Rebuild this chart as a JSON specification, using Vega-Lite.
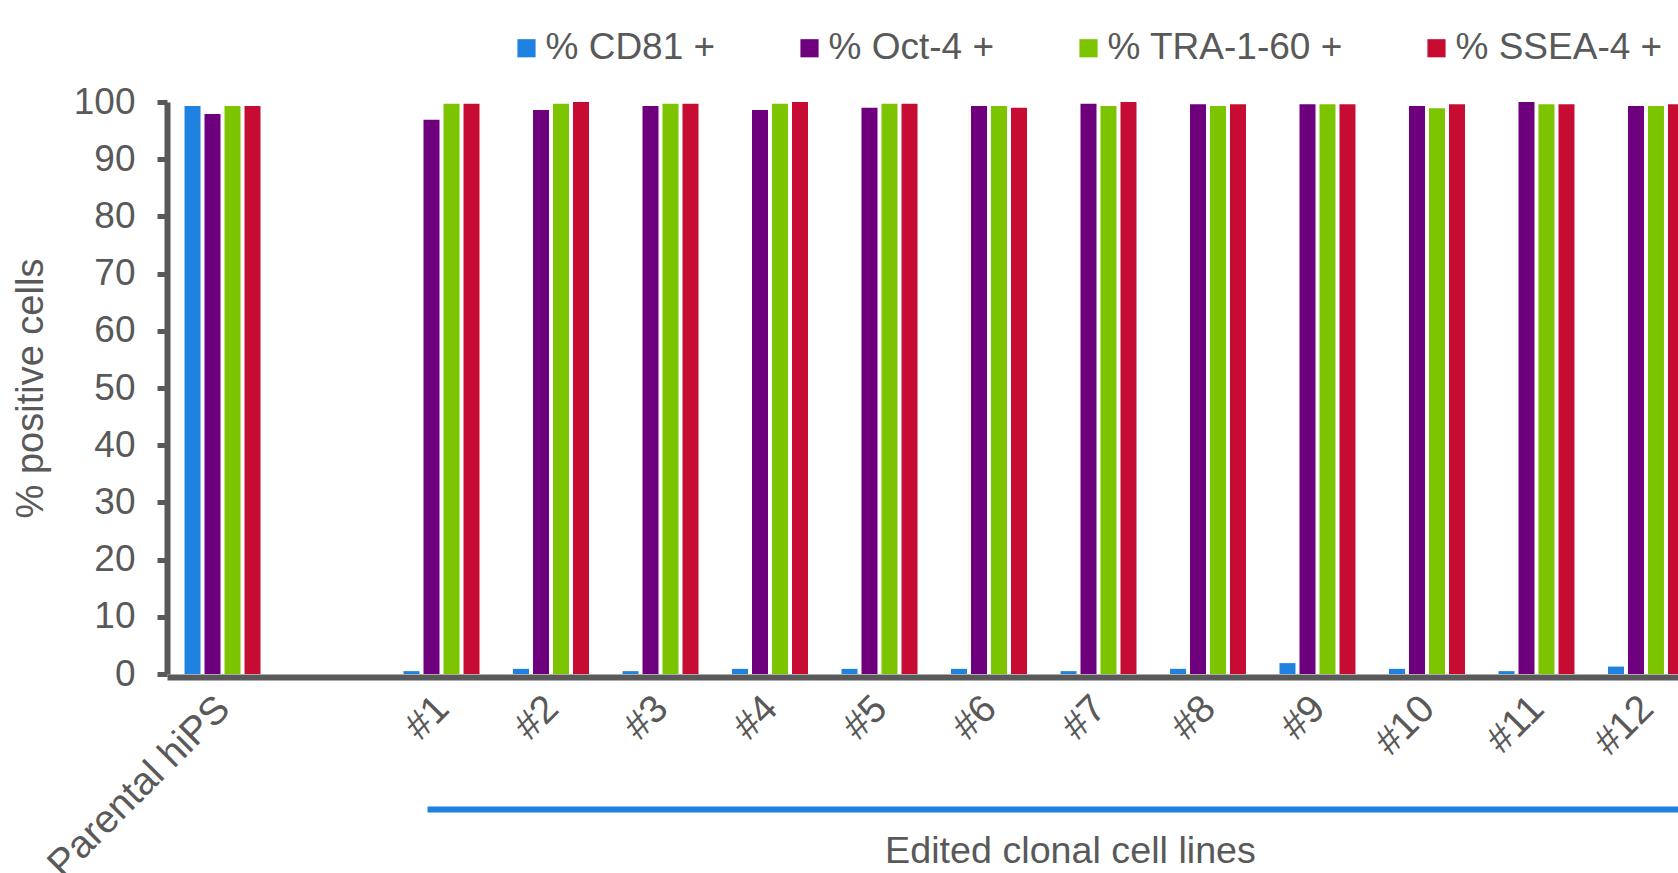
{
  "$schema": "https://vega.github.io/schema/vega-lite/v6.json",
  "width": 1511,
  "height": 572,
  "autosize": {"type": "none"},
  "padding": {"left": 167, "top": 102, "right": 0, "bottom": 199},
  "background": "white",
  "config": {"font": "Liberation Sans", "view": {"stroke": null}, "axis": {"grid": false}},
  "layer": [
    {
      "data": {"values": [
        {"line": "Parental hiPS", "marker": "% CD81 +", "value": 99.3},
        {"line": "Parental hiPS", "marker": "% Oct-4 +", "value": 97.9},
        {"line": "Parental hiPS", "marker": "% TRA-1-60 +", "value": 99.3},
        {"line": "Parental hiPS", "marker": "% SSEA-4 +", "value": 99.3},
        {"line": "#1", "marker": "% CD81 +", "value": 0.5},
        {"line": "#1", "marker": "% Oct-4 +", "value": 96.9},
        {"line": "#1", "marker": "% TRA-1-60 +", "value": 99.7},
        {"line": "#1", "marker": "% SSEA-4 +", "value": 99.7},
        {"line": "#2", "marker": "% CD81 +", "value": 0.9},
        {"line": "#2", "marker": "% Oct-4 +", "value": 98.6},
        {"line": "#2", "marker": "% TRA-1-60 +", "value": 99.7},
        {"line": "#2", "marker": "% SSEA-4 +", "value": 100},
        {"line": "#3", "marker": "% CD81 +", "value": 0.5},
        {"line": "#3", "marker": "% Oct-4 +", "value": 99.3},
        {"line": "#3", "marker": "% TRA-1-60 +", "value": 99.7},
        {"line": "#3", "marker": "% SSEA-4 +", "value": 99.7},
        {"line": "#4", "marker": "% CD81 +", "value": 0.9},
        {"line": "#4", "marker": "% Oct-4 +", "value": 98.6},
        {"line": "#4", "marker": "% TRA-1-60 +", "value": 99.7},
        {"line": "#4", "marker": "% SSEA-4 +", "value": 100},
        {"line": "#5", "marker": "% CD81 +", "value": 0.9},
        {"line": "#5", "marker": "% Oct-4 +", "value": 99.0},
        {"line": "#5", "marker": "% TRA-1-60 +", "value": 99.7},
        {"line": "#5", "marker": "% SSEA-4 +", "value": 99.7},
        {"line": "#6", "marker": "% CD81 +", "value": 0.9},
        {"line": "#6", "marker": "% Oct-4 +", "value": 99.3},
        {"line": "#6", "marker": "% TRA-1-60 +", "value": 99.3},
        {"line": "#6", "marker": "% SSEA-4 +", "value": 99.0},
        {"line": "#7", "marker": "% CD81 +", "value": 0.5},
        {"line": "#7", "marker": "% Oct-4 +", "value": 99.7},
        {"line": "#7", "marker": "% TRA-1-60 +", "value": 99.3},
        {"line": "#7", "marker": "% SSEA-4 +", "value": 100},
        {"line": "#8", "marker": "% CD81 +", "value": 0.9},
        {"line": "#8", "marker": "% Oct-4 +", "value": 99.6},
        {"line": "#8", "marker": "% TRA-1-60 +", "value": 99.3},
        {"line": "#8", "marker": "% SSEA-4 +", "value": 99.6},
        {"line": "#9", "marker": "% CD81 +", "value": 1.9},
        {"line": "#9", "marker": "% Oct-4 +", "value": 99.6},
        {"line": "#9", "marker": "% TRA-1-60 +", "value": 99.6},
        {"line": "#9", "marker": "% SSEA-4 +", "value": 99.6},
        {"line": "#10", "marker": "% CD81 +", "value": 0.9},
        {"line": "#10", "marker": "% Oct-4 +", "value": 99.3},
        {"line": "#10", "marker": "% TRA-1-60 +", "value": 98.9},
        {"line": "#10", "marker": "% SSEA-4 +", "value": 99.6},
        {"line": "#11", "marker": "% CD81 +", "value": 0.5},
        {"line": "#11", "marker": "% Oct-4 +", "value": 100},
        {"line": "#11", "marker": "% TRA-1-60 +", "value": 99.6},
        {"line": "#11", "marker": "% SSEA-4 +", "value": 99.6},
        {"line": "#12", "marker": "% CD81 +", "value": 1.3},
        {"line": "#12", "marker": "% Oct-4 +", "value": 99.3},
        {"line": "#12", "marker": "% TRA-1-60 +", "value": 99.3},
        {"line": "#12", "marker": "% SSEA-4 +", "value": 99.6}
      ]},
      "mark": {"type": "bar"},
      "encoding": {
        "x": {
          "field": "line",
          "type": "nominal",
          "sort": null,
          "scale": {
            "domain": ["Parental hiPS", " ", "#1", "#2", "#3", "#4", "#5", "#6", "#7", "#8", "#9", "#10", "#11", "#12"],
            "range": [0, 1534.5],
            "paddingInner": 0.306,
            "paddingOuter": 0.16
          },
          "axis": {
            "title": "Edited clonal cell lines",
            "titleX": 903,
            "titleY": 185,
            "titleBaseline": "alphabetic",
            "titleAlign": "center",
            "titleFontSize": 37.7,
            "titleFontWeight": "normal",
            "titleColor": "#595959",
            "ticks": false,
            "tickSize": 0,
            "labelAngle": -45,
            "labelAlign": "right",
            "labelBaseline": "middle",
            "labelPadding": 25,
            "labelOffset": 1,
            "labelFontSize": 39,
            "labelColor": "#595959",
            "labelLimit": 500,
            "labelOverlap": false,
            "domainColor": "#595959",
            "domainWidth": 6,
            "offset": 3
          }
        },
        "xOffset": {
          "field": "marker",
          "type": "nominal",
          "sort": null,
          "scale": {"domain": ["% CD81 +", "% Oct-4 +", "% TRA-1-60 +", "% SSEA-4 +"], "paddingInner": 0.2, "paddingOuter": 0}
        },
        "y": {
          "field": "value",
          "type": "quantitative",
          "scale": {"domain": [0, 100], "nice": false},
          "axis": {
            "title": "% positive cells",
            "values": [0, 10, 20, 30, 40, 50, 60, 70, 80, 90, 100],
            "domainColor": "#595959",
            "domainWidth": 6,
            "tickColor": "#595959",
            "tickWidth": 5,
            "tickSize": 10,
            "labelFontSize": 37,
            "labelColor": "#595959",
            "labelPadding": 22,
            "labelOverlap": false,
            "titleFontSize": 38,
            "titleFontWeight": "normal",
            "titleColor": "#595959",
            "titlePadding": 23
          }
        },
        "color": {
          "field": "marker",
          "type": "nominal",
          "scale": {
            "domain": ["% CD81 +", "% Oct-4 +", "% TRA-1-60 +", "% SSEA-4 +"],
            "range": ["#1F82E0", "#6E007E", "#7DC400", "#C60C32"]
          },
          "legend": {
            "orient": "none",
            "legendX": 341,
            "legendY": -72.5,
            "direction": "horizontal",
            "title": null,
            "symbolType": "square",
            "symbolSize": 330,
            "symbolStrokeWidth": 0,
            "symbolOpacity": 1,
            "labelFontSize": 37,
            "labelColor": "#595959",
            "labelOffset": 0.5,
            "labelLimit": 500,
            "columnPadding": 75,
            "padding": 0
          }
        }
      }
    },
    {
      "data": {"values": [{"from": "#1", "to": "#12", "pos": -23.7}]},
      "mark": {"type": "rule", "color": "#1E80E0", "strokeWidth": 6},
      "encoding": {
        "x": {"field": "from", "type": "nominal", "bandPosition": 0.316},
        "x2": {"field": "to", "bandPosition": 1.4},
        "y": {"field": "pos", "type": "quantitative"}
      }
    }
  ]
}
